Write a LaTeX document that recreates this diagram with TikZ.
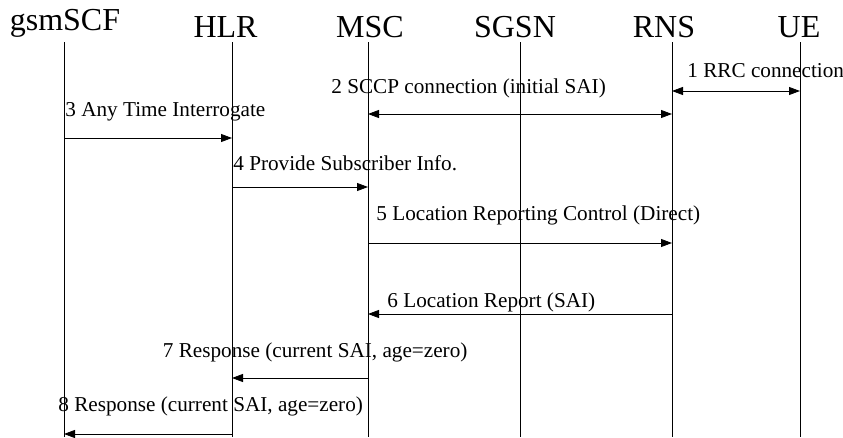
\documentclass[tikz,border=0pt]{standalone}
\usepackage{fontspec}
\setmainfont{Liberation Serif}
\usetikzlibrary{arrows.meta}

\begin{document}
\begin{tikzpicture}[x=1pt, y=-1pt, line width=0.8pt,
  msg/.style={-{Triangle[length=11pt,width=8pt]}},
  both/.style={{Triangle[length=11pt,width=8pt]}-{Triangle[length=11pt,width=8pt]}},
  head/.style={anchor=base, inner sep=0pt, font=\fontsize{32}{36}\selectfont},
  lbl/.style={anchor=base west, inner sep=0pt, font=\fontsize{21.2}{24}\selectfont}]
  \useasboundingbox (0,0) rectangle (843,437);

  % entities
  \node[head] (scf) at (65,30.7) {gsmSCF};
  \node[head] (hlr) at (225.5,37.3) {HLR};
  \node[head] (msc) at (370,37.3) {MSC};
  \node[head] (sgsn) at (515,37.3) {SGSN};
  \node[head] (rns) at (664,37.3) {RNS};
  \node[head] (ue) at (799,37.3) {UE};

  % lifelines
  \coordinate (scf top) at (64,42);   \coordinate (scf bot) at (64,437);
  \coordinate (hlr top) at (232,42);  \coordinate (hlr bot) at (232,437);
  \coordinate (msc top) at (368,42);  \coordinate (msc bot) at (368,437);
  \coordinate (sgsn top) at (520,42); \coordinate (sgsn bot) at (520,437);
  \coordinate (rns top) at (672,42);  \coordinate (rns bot) at (672,437);
  \coordinate (ue top) at (800,42);   \coordinate (ue bot) at (800,437);
  \foreach \n in {scf, hlr, msc, sgsn, rns, ue}
    \draw (\n\space top) -- (\n\space bot);

  % messages
  \draw[both] (rns top |- 0,91) -- (ue top |- 0,91);
  \node[lbl] (m1) at (687,77) {1 RRC connection};

  \draw[both] (msc top |- 0,114) -- (rns top |- 0,114);
  \node[lbl] (m2) at (331,93) {2 SCCP connection (initial SAI)};

  \draw[msg] (scf top |- 0,138) -- (hlr top |- 0,138);
  \node[lbl] (m3) at (65,116) {3 Any Time Interrogate};

  \draw[msg] (hlr top |- 0,187) -- (msc top |- 0,187);
  \node[lbl] (m4) at (233,170) {4 Provide Subscriber Info.};

  \draw[msg] (msc top |- 0,243) -- (rns top |- 0,243);
  \node[lbl] (m5) at (376,220) {5 Location Reporting Control (Direct)};

  \draw[msg] (rns top |- 0,314) -- (msc top |- 0,314);
  \node[lbl] (m6) at (387,307) {6 Location Report (SAI)};

  \draw[msg] (msc top |- 0,378) -- (hlr top |- 0,378);
  \node[lbl] (m7) at (162.5,357) {7 Response (current SAI, age=zero)};

  \draw[msg] (hlr top |- 0,434) -- (scf top |- 0,434);
  \node[lbl] (m8) at (58,411) {8 Response (current SAI, age=zero)};
\end{tikzpicture}
\end{document}
